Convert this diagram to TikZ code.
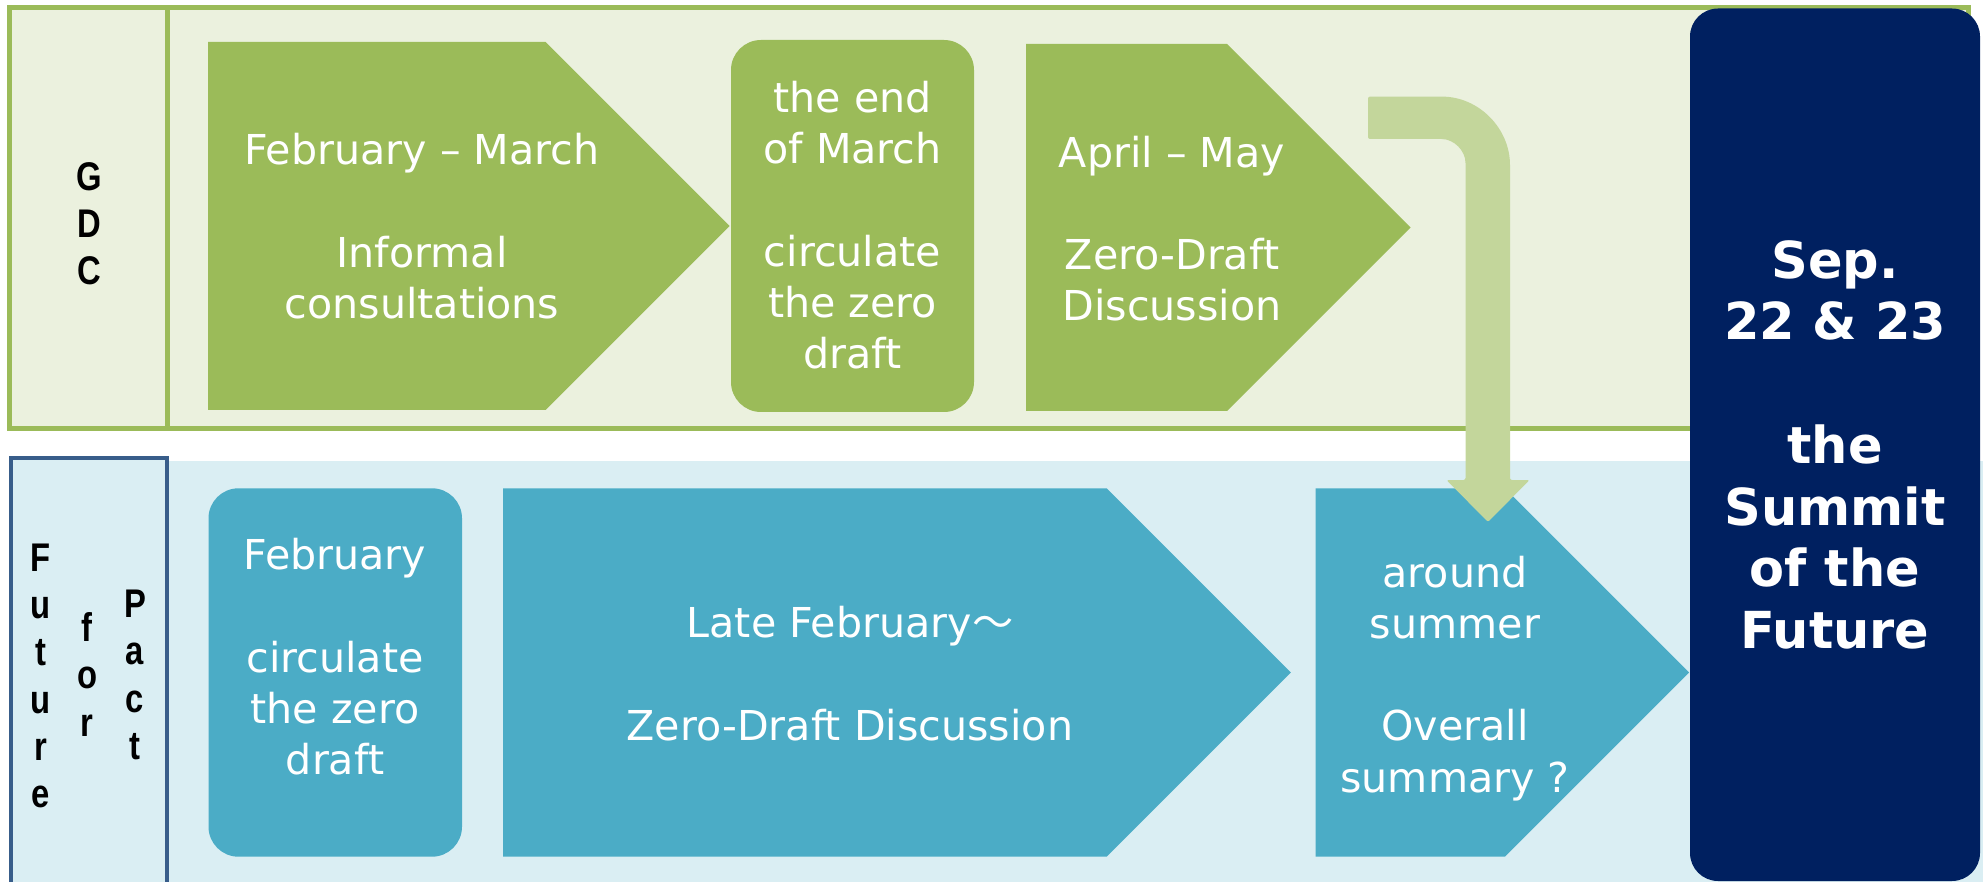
\documentclass[tikz,border=0pt]{standalone}
\usepackage{fontspec}
\setmainfont{DejaVu Sans}
\newfontfamily\lblfont[FakeStretch=0.82]{Liberation Sans}
\newfontfamily\cjkfont{Noto Sans CJK JP}
\definecolor{gdcgreen}{HTML}{9BBB59}
\definecolor{gdclight}{HTML}{EBF1DE}
\definecolor{bendgreen}{HTML}{C3D69B}
\definecolor{pactblue}{HTML}{4BACC6}
\definecolor{pactlight}{HTML}{DAEEF3}
\definecolor{pactborder}{HTML}{385D8A}
\definecolor{summitblue}{HTML}{002060}
\tikzset{
  lanegreen/.style={fill=gdclight, draw=gdcgreen, line width=2.5pt},
  divider/.style={draw=gdcgreen, line width=2.5pt},
  pactlabelbox/.style={fill=pactlight, draw=pactborder, line width=2pt},
  chevg/.style={fill=gdcgreen},
  chevb/.style={fill=pactblue},
  roundg/.style={fill=gdcgreen, rounded corners=15pt},
  roundb/.style={fill=pactblue, rounded corners=15pt},
  bendarrow/.style={fill=bendgreen, rounded corners=1pt},
  body/.style={text=white, font=\fontsize{20.6}{25.6}\selectfont, align=center, inner sep=0pt},
  lanelabel/.style={text=black, font=\lblfont\bfseries\fontsize{20}{23.65}\selectfont, align=center, inner sep=0pt},
  summit/.style={fill=summitblue, rounded corners=14pt, text=white,
    font=\bfseries\fontsize{25.5}{30.85}\selectfont, align=center, inner sep=0pt,
    minimum width=145pt, minimum height=436.25pt}
}
\begin{document}
\begin{tikzpicture}[x=0.5pt,y=-0.5pt]
\useasboundingbox (0,0) rectangle (1983,882);
\clip (0,0) rectangle (1983,882);

% lanes
\fill[pactlight] (167,461) rectangle (1983,882);
\draw[lanegreen] (9.2,7.5) rectangle (1968,428.5);
\draw[divider] (167.5,7.5) -- (167.5,428.5);
\draw[pactlabelbox] (11.3,458.5) rectangle (167,895);

% lane labels
\node[lanelabel] (gdc) at (89,223.6) {G\\D\\C};
\node[lanelabel] (future) at (40.7,675.9) {F\\u\\t\\u\\r\\e};
\node[lanelabel] (for) at (87.3,674.4) {f\\o\\r};
\node[lanelabel] (pact) at (135,675) {P\\a\\c\\t};

% GDC row shapes
\fill[chevg] (208,42) -- (545.5,42) -- (729.5,226) -- (545.5,410) -- (208,410) -- cycle;
\fill[roundg] (731,40) rectangle (974,412);
\fill[chevg] (1026,44) -- (1227,44) -- (1410.5,227.5) -- (1227,411) -- (1026,411) -- cycle;

% Pact row shapes
\fill[roundb] (208.5,488.3) rectangle (462,856.7);
\fill[chevb] (503,488.3) -- (1106.6,488.3) -- (1290.8,672.5) -- (1106.6,856.7) -- (503,856.7) -- cycle;
\fill[chevb] (1315.7,488.3) -- (1505,488.3) -- (1689.2,672.5) -- (1505,856.7) -- (1315.7,856.7) -- cycle;

% bent arrow from GDC row down to the Pact row
\coordinate (bendstart) at (1368,96.6);
\coordinate (bendtip) at (1488,522);
\fill[bendarrow] (bendstart) -- (1440,96.6) .. controls (1478.7,96.6) and (1510,128.3) .. (1510,167)
  -- (1510,480) -- (1529.5,480) -- (bendtip) -- (1446.5,480) -- (1465.5,480) -- (1465.5,165)
  .. controls (1465.5,150.6) and (1453.9,139) .. (1439.5,139) -- (1368,139) -- cycle;

% texts
\node[body] (g1) at (422,226.2) {February – March\\[25.6pt]Informal\\consultations};
\node[body] (g2) at (852.5,225.4) {the end\\of March\\[25.6pt]circulate\\the zero\\draft};
\node[body] (g3) at (1172,228.7) {April – May\\[25.6pt]Zero-Draft\\Discussion};
\node[body] (p1) at (335,656.8) {February\\[25.6pt]circulate\\the zero\\draft};
\node[body] (p2) at (850,673.6) {Late February{\cjkfont ～}\\[25.6pt]Zero-Draft Discussion};
\node[body] (p3) at (1455,678.3) {around\\summer\\[25.6pt]Overall\\summary ?};

% summit
\node[summit] (sum) at (1835,444.75) {Sep.\\22 \& 23\\[30.85pt]the\\Summit\\of the\\Future};
\end{tikzpicture}
\end{document}
